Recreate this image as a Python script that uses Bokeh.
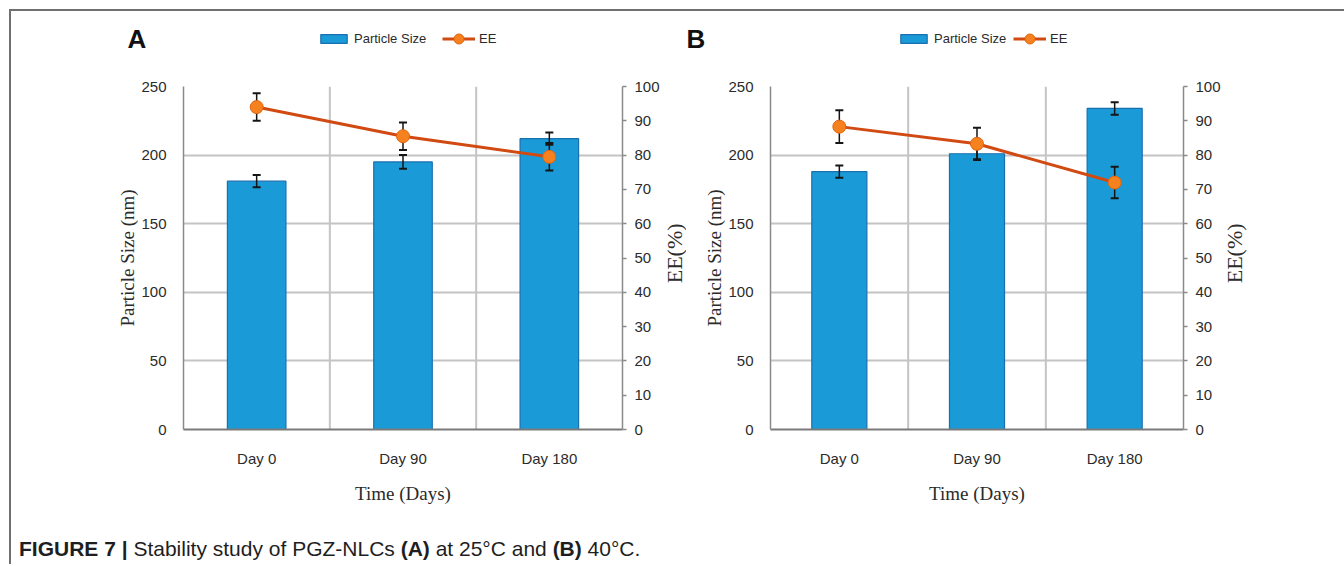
import math

from bokeh.embed import file_html
from bokeh.layouts import column, row
from bokeh.models import (ColumnDataSource, Div, FactorRange, FixedTicker, Label,
                          Legend, LegendItem, LinearAxis, Range1d, Span)
from bokeh.plotting import figure
from bokeh.resources import INLINE

# ---- data -------------------------------------------------------------
days = ["Day 0", "Day 90", "Day 180"]

# (A) storage at 25 °C
size_a = [181, 195, 212]
size_a_err = [4.5, 5, 4.5]
ee_a = [94, 85.5, 79.5]
ee_a_err = [4, 4, 4]

# (B) storage at 40 °C
size_b = [188, 201, 234]
size_b_err = [4.5, 4, 4.5]
ee_b = [88.3, 83.3, 72]
ee_b_err = [4.8, 4.7, 4.6]

size_ticks = [0, 50, 100, 150, 200, 250]
ee_ticks = [0, 10, 20, 30, 40, 50, 60, 70, 80, 90, 100]

# ---- styling ----------------------------------------------------------
SANS = "'Liberation Sans', Arial, sans-serif"
SERIF = "'Liberation Serif', serif"
BAR_FILL = "#1a9bd7"
BAR_EDGE = "#1a6fae"
LINE_COL = "#d04a12"
MARK_FILL = "#f5821f"
MARK_EDGE = "#e2650f"
AXIS_COL = "#8a8a8a"
GRID_COL = "#c4c4c4"
TEXT_COL = "#2b2b2b"
ERR_COL = "#151515"
NAN = float("nan")

HEAD_H = 65      # strip holding panel letters and legends
FIG_H = 444
TOP = 10
BOTTOM = 91
EE_TITLE_Y = 228  # vertical position of the EE(%) title inside its strip


def bar_style():
    return dict(fill_color=BAR_FILL, line_color=BAR_EDGE, line_width=1.2)


def line_style():
    return dict(line_color=LINE_COL, line_width=3)


def marker_style():
    return dict(marker="circle", fill_color=MARK_FILL, line_color=MARK_EDGE,
                line_width=1)


def blank_figure(width, height):
    f = figure(width=width, height=height, x_range=Range1d(0, width),
               y_range=Range1d(0, height), output_backend="svg",
               toolbar_location=None, min_border=0, outline_line_color=None,
               background_fill_color="white", border_fill_color="white")
    f.axis.visible = False
    f.grid.visible = False
    return f


def make_panel(size, size_err, ee, ee_err, width, left, right):
    p = figure(x_range=FactorRange(factors=days, range_padding=0),
               y_range=Range1d(0, 250), width=width, height=FIG_H,
               output_backend="svg", toolbar_location=None,
               min_border_left=left, min_border_right=right,
               min_border_top=TOP, min_border_bottom=BOTTOM,
               outline_line_color=None, background_fill_color="white",
               border_fill_color="white")
    p.extra_y_ranges = {"ee": Range1d(0, 100)}

    # left axis: particle size
    ya = p.yaxis[0]
    ya.ticker = FixedTicker(ticks=size_ticks)
    ya.major_tick_line_color = None
    ya.minor_tick_line_color = None
    ya.axis_line_color = AXIS_COL
    ya.axis_line_width = 1.5
    ya.major_label_standoff = 11
    ya.major_label_text_font = SANS
    ya.major_label_text_font_size = "15px"
    ya.major_label_text_color = TEXT_COL
    ya.axis_label = "Particle Size (nm)"
    ya.axis_label_text_font = SERIF
    ya.axis_label_text_font_size = "19px"
    ya.axis_label_text_font_style = "normal"
    ya.axis_label_text_color = TEXT_COL
    ya.axis_label_standoff = 0

    # right axis: entrapment efficiency (its title sits in a strip beside it)
    ra = LinearAxis(y_range_name="ee", ticker=FixedTicker(ticks=ee_ticks))
    ra.major_tick_in = 0
    ra.major_tick_out = 4
    ra.major_tick_line_color = AXIS_COL
    ra.major_tick_line_width = 1.5
    ra.minor_tick_line_color = None
    ra.axis_line_color = AXIS_COL
    ra.axis_line_width = 1.5
    ra.major_label_standoff = 8
    ra.major_label_text_font = SANS
    ra.major_label_text_font_size = "15px"
    ra.major_label_text_color = TEXT_COL
    p.add_layout(ra, "right")

    # bottom axis: time
    xa = p.xaxis[0]
    xa.major_tick_line_color = None
    xa.minor_tick_line_color = None
    xa.axis_line_color = "#7a7a7a"
    xa.axis_line_width = 2
    xa.major_label_standoff = 14
    xa.major_label_text_font = SANS
    xa.major_label_text_font_size = "15px"
    xa.major_label_text_color = TEXT_COL
    xa.axis_label = "Time (Days)"
    xa.axis_label_text_font = SERIF
    xa.axis_label_text_font_size = "19px"
    xa.axis_label_text_font_style = "normal"
    xa.axis_label_text_color = TEXT_COL
    xa.axis_label_standoff = 13

    # grid: horizontal at the size ticks, vertical between the time points
    p.ygrid.ticker = FixedTicker(ticks=size_ticks)
    p.ygrid.grid_line_color = GRID_COL
    p.ygrid.grid_line_width = 2
    p.xgrid.visible = False
    for b in (1, 2):
        p.add_layout(Span(location=b, dimension="height", line_color=GRID_COL,
                          line_width=2, level="underlay"))

    src = ColumnDataSource(dict(
        day=days, size=size,
        s_lo=[v - e for v, e in zip(size, size_err)],
        s_hi=[v + e for v, e in zip(size, size_err)],
        ee=ee,
        e_lo=[v - e for v, e in zip(ee, ee_err)],
        e_hi=[v + e for v, e in zip(ee, ee_err)],
    ))

    p.vbar(x="day", top="size", width=0.4, source=src, **bar_style())

    # error bars on particle size
    p.segment(x0="day", y0="s_lo", x1="day", y1="s_hi", source=src,
              line_color=ERR_COL, line_width=1.5)
    for col in ("s_lo", "s_hi"):
        p.scatter(x="day", y=col, source=src, marker="dash", size=8,
                  line_color=ERR_COL, line_width=2)

    # error bars on EE
    p.segment(x0="day", y0="e_lo", x1="day", y1="e_hi", source=src,
              y_range_name="ee", line_color=ERR_COL, line_width=1.5)
    for col in ("e_lo", "e_hi"):
        p.scatter(x="day", y=col, source=src, marker="dash", size=8,
                  y_range_name="ee", line_color=ERR_COL, line_width=2)

    p.line(x="day", y="ee", source=src, y_range_name="ee", **line_style())
    p.scatter(x="day", y="ee", source=src, y_range_name="ee", size=13,
              **marker_style())
    return p


def ee_title_strip(width, x):
    """Narrow strip to the right of a panel carrying the EE(%) axis title."""
    s = blank_figure(width, FIG_H)
    s.add_layout(Label(x=x, y=EE_TITLE_Y, text="EE(%)", angle=math.pi / 2,
                       text_font=SERIF, text_font_size="22px",
                       text_color=TEXT_COL, text_align="center",
                       text_baseline="middle"))
    return s


pa = make_panel(size_a, size_a_err, ee_a, ee_a_err, width=651, left=172, right=40)
pb = make_panel(size_b, size_b_err, ee_b, ee_b_err, width=537, left=84, right=40)
sa = ee_title_strip(24, 12)
sb = ee_title_strip(40, 11)

# ---- header strip: panel letters and legends ---------------------------
HEAD_W = 1333
head = blank_figure(HEAD_W, HEAD_H)

# legend keys styled like the series in the panels (no visible data)
key_bar = head.vbar(x=[NAN], top=[NAN], width=1, **bar_style())
key_line = head.line(x=[NAN], y=[NAN], **line_style())
key_pt = head.scatter(x=[NAN], y=[NAN], size=10, **marker_style())

legend_common = dict(orientation="horizontal", glyph_width=33, label_standoff=4,
                     padding=0, margin=0, label_height=20, border_line_color=None,
                     background_fill_alpha=0, label_text_font=SANS,
                     label_text_font_size="13px", label_text_color=TEXT_COL)

for letter, lx, bar_x, ee_x in (("A", 116, 306, 431), ("B", 675, 886, 1002)):
    head.add_layout(Label(x=lx, y=38, text=letter, text_font=SANS,
                          text_font_style="bold", text_font_size="26px",
                          text_color="#111111", text_baseline="middle",
                          text_align="left"))
    head.add_layout(Legend(items=[LegendItem(label="Particle Size",
                                             renderers=[key_bar])],
                           location=(bar_x, 28), glyph_height=11,
                           **legend_common))
    head.add_layout(Legend(items=[LegendItem(label="EE",
                                             renderers=[key_line, key_pt])],
                           location=(ee_x, 25), glyph_height=25,
                           **legend_common))

caption = Div(
    text=('<span style="font-family: \'Liberation Sans\', Arial, sans-serif; '
          'font-size: 21px; color: #1e1e1e; white-space: nowrap;">'
          '<b>FIGURE 7 |</b> Stability study of PGZ-NLCs <b>(A)</b> at 25°C '
          'and <b>(B)</b> 40°C.</span>'),
    width=900, height=30, margin=(14, 0, 0, 8))

page = column(head, row(pa, sa, pb, sb), caption, margin=(9, 0, 0, 9),
              styles={"border-left": "2px solid #707070",
                      "border-top": "2px solid #707070"})

open("out.html", "w").write(file_html(page, INLINE))
